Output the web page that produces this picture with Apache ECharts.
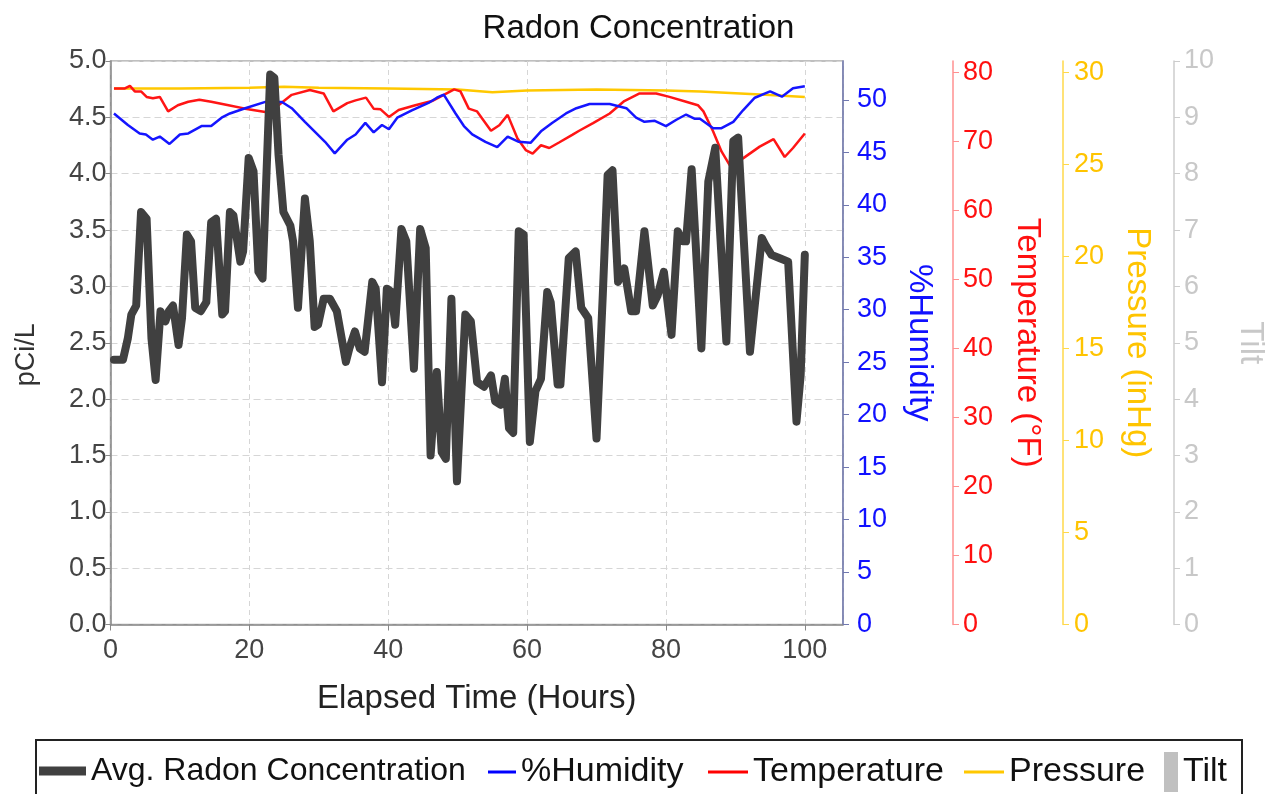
<!DOCTYPE html>
<html>
<head>
<meta charset="utf-8">
<script src="https://cdn.jsdelivr.net/npm/echarts@6/dist/echarts.min.js"></script>
<style>
html,body{margin:0;padding:0;background:#fff;}
#chart{width:1277px;height:794px;}
</style>
</head>
<body>
<div id="chart"></div>
<script>
// ---- data ----
var radonHours = [0.5,1.8,2.5,3.0,3.7,4.4,5.2,5.9,6.5,7.2,7.9,8.4,9.0,9.8,10.3,11.0,11.6,12.2,13.0,13.8,14.5,15.2,16.1,16.5,17.2,17.7,18.7,19.1,19.9,20.6,21.3,21.9,23.0,23.6,24.2,24.9,25.9,26.3,27.0,28.0,28.7,29.4,29.9,30.7,31.6,32.6,33.9,34.4,35.2,35.9,36.6,37.7,38.2,39.1,39.8,40.5,41.0,41.9,42.6,43.7,44.6,45.4,46.1,47.0,47.7,48.3,49.1,49.9,51.1,51.9,52.8,53.8,54.8,55.4,56.2,56.8,57.4,58.0,58.8,59.5,60.4,61.2,62.0,62.9,63.4,64.4,64.8,66.0,67.0,67.8,68.8,70.0,70.9,71.6,72.3,73.1,74.0,75.0,75.7,76.9,78.1,78.8,79.7,80.8,81.7,82.4,82.9,83.7,85.1,86.1,87.1,88.7,89.7,90.4,92.1,93.8,94.3,95.2,96.4,97.6,98.8,99.4,100.0];
var radonValues = [2.35,2.35,2.54,2.75,2.83,3.66,3.60,2.54,2.17,2.78,2.69,2.78,2.83,2.48,2.72,3.46,3.40,2.81,2.78,2.86,3.57,3.60,2.75,2.78,3.66,3.63,3.22,3.31,4.14,4.02,3.13,3.07,4.88,4.85,4.17,3.66,3.54,3.40,2.81,3.78,3.40,2.64,2.66,2.89,2.89,2.78,2.33,2.45,2.60,2.45,2.42,3.04,2.98,2.15,2.98,2.95,2.66,3.51,3.40,2.27,3.51,3.34,1.50,2.24,1.53,1.47,2.89,1.27,2.75,2.69,2.15,2.11,2.21,1.98,1.95,2.18,1.74,1.70,3.49,3.46,1.62,2.07,2.18,2.95,2.86,2.13,2.13,3.25,3.31,2.81,2.72,1.65,2.92,3.99,4.03,3.04,3.16,2.78,2.78,3.49,2.83,2.92,3.13,2.57,3.49,3.40,3.40,4.04,2.45,3.93,4.23,2.51,4.29,4.32,2.42,3.43,3.37,3.28,3.25,3.22,1.80,2.21,3.28];

var humidityHours = [0.5,2.5,4.2,5.1,6.1,7.1,8.5,10.0,11.2,13.1,14.5,16.0,17.2,19.4,22.3,24.7,26.1,28.0,30.9,32.3,34.1,35.3,36.7,37.9,39.1,40.1,41.3,43.4,45.8,47.0,48.0,49.7,50.9,52.1,54.0,55.7,57.2,58.8,60.5,62.0,63.6,65.6,67.1,69.0,71.9,74.3,75.7,76.9,78.4,80.0,81.5,82.9,84.1,84.9,86.8,88.0,89.7,91.1,92.8,95.0,96.7,98.3,100.0];
var humidityValues = [48.7,47.6,46.8,46.7,46.2,46.5,45.8,46.7,46.8,47.5,47.5,48.3,48.7,49.2,49.8,49.8,49.2,47.9,46.0,44.9,46.2,46.7,47.8,46.9,47.6,47.2,48.3,49.0,49.7,50.2,50.5,48.7,47.5,46.7,46.0,45.5,46.5,46.0,45.9,47.0,47.8,48.7,49.2,49.6,49.6,49.2,48.3,47.9,48.0,47.5,48.1,48.6,48.2,48.2,47.3,47.3,47.9,49.0,50.2,50.8,50.3,51.1,51.3];

var temperatureHours = [0.5,2.0,2.8,3.5,4.4,5.2,6.1,7.1,8.3,9.7,11.2,12.8,14.5,17.0,19.4,22.3,24.2,26.1,28.7,30.7,32.1,34.1,35.3,36.8,37.9,38.9,40.1,41.5,43.9,46.3,48.0,49.5,50.4,51.6,52.8,54.8,56.0,57.2,58.6,59.8,60.8,62.0,63.2,64.6,66.5,67.5,69.5,71.9,74.0,76.2,78.6,80.5,82.9,84.6,85.4,86.8,88.0,89.2,91.1,93.5,95.5,97.1,98.3,100.0];
var temperatureValues = [77.6,77.6,78.0,77.2,77.2,76.4,76.2,76.4,74.3,75.2,75.7,76.0,75.7,75.2,74.7,74.2,75.2,76.7,77.4,76.9,74.3,75.5,75.9,76.3,74.7,74.6,73.5,74.5,75.2,75.8,76.7,77.5,77.2,74.7,74.3,71.5,72.3,73.8,70.4,68.7,68.2,69.4,69.0,69.8,70.9,71.5,72.6,74.0,75.8,76.9,76.9,76.4,75.7,75.2,74.3,71.4,68.5,66.5,67.5,69.2,70.3,67.7,69.0,71.1];

var pressureHours = [0.5,10,20,25,30,40,50,55,60,70,80,85,90,95,100];
var pressureValues = [29.1,29.1,29.15,29.2,29.15,29.1,29.05,28.9,29.0,29.05,29.0,28.95,28.85,28.75,28.65];

var tiltValues = [];

var xTicks = {min: 0, max: 105.5, interval: 20};
var seriesNames = ['Avg. Radon Concentration','%Humidity','Temperature','Pressure','Tilt'];

function pairs(xs, ys){ return xs.map(function(x,i){ return [x, ys[i]]; }); }

var FONT = 'Liberation Sans, Arial, sans-serif';
var NAME_SIZE = 33, TICK_SIZE = 27;
var chart = echarts.init(document.getElementById('chart'));

function rightAxis(name, color, lineColor, max, interval, offset, gap, margin, showMax){
  return {
    type: 'value', position: 'right', offset: offset, min: 0, max: max, interval: interval,
    name: name, nameLocation: 'middle', nameRotate: -90, nameGap: gap,
    nameTextStyle: {color: color, fontSize: NAME_SIZE, fontFamily: FONT},
    axisLine: {show: true, lineStyle: {color: lineColor, width: 1.5}},
    axisTick: {show: true, length: 6, lineStyle: {color: lineColor}},
    axisLabel: {color: color, fontSize: TICK_SIZE, fontFamily: FONT, margin: margin, showMaxLabel: showMax},
    splitLine: {show: false}
  };
}

function legendItem(name, left, top, w, h, size){
  return {
    data: [name], left: left, top: top, itemWidth: w, itemHeight: h, icon: 'rect',
    padding: 0, itemGap: 0, selectedMode: false,
    textStyle: {fontSize: size, color: '#111', fontFamily: FONT}
  };
}

var option = {
  backgroundColor: '#fff',
  animation: false,
  title: {
    text: 'Radon Concentration', left: 'center', top: 7,
    textStyle: {fontSize: NAME_SIZE, fontWeight: 'normal', color: '#111', fontFamily: FONT}
  },
  grid: {left: 110.5, right: 434, top: 61, bottom: 169.5, show: true, borderColor: '#aaa', borderWidth: 1.5, containLabel: false},
  legend: [
    legendItem(seriesNames[0], 39, 755, 47, 9, 32),
    legendItem(seriesNames[1], 488, 755, 28, 3, 34),
    legendItem(seriesNames[2], 708, 755, 40, 3, 34),
    legendItem(seriesNames[3], 964, 755, 40, 3, 34),
    legendItem(seriesNames[4], 1164, 752, 14, 40, 34)
  ],
  graphic: [{
    type: 'rect', shape: {x: 36, y: 740, width: 1206, height: 80},
    style: {fill: 'none', stroke: '#222', lineWidth: 2}, silent: true, z: 100
  }],
  xAxis: {
    type: 'value', min: xTicks.min, max: xTicks.max, interval: xTicks.interval,
    name: 'Elapsed Time (Hours)', nameLocation: 'middle', nameGap: 58,
    nameTextStyle: {color: '#222', fontSize: NAME_SIZE, fontFamily: FONT},
    axisLine: {show: true, onZero: false, lineStyle: {color: '#888', width: 1.5}},
    axisTick: {show: true, length: 6, lineStyle: {color: '#888'}},
    axisLabel: {color: '#444', fontSize: TICK_SIZE, fontFamily: FONT, margin: 13, showMaxLabel: false},
    splitLine: {show: true, lineStyle: {color: '#d6d6d6', type: [5, 4], width: 1}}
  },
  yAxis: [
    {
      type: 'value', position: 'left', min: 0, max: 5, interval: 0.5,
      name: 'pCi/L', nameLocation: 'middle', nameGap: 70,
      nameTextStyle: {color: '#333', fontSize: 27, fontFamily: FONT, padding: [0, 24, 0, 0]},
      axisLine: {show: true, lineStyle: {color: '#888', width: 1.5}},
      axisTick: {show: true, length: 5, lineStyle: {color: '#888'}},
      axisLabel: {color: '#444', fontSize: TICK_SIZE, fontFamily: FONT, margin: 4,
        formatter: function(v){ return v.toFixed(1); }},
      splitLine: {show: true, lineStyle: {color: '#d6d6d6', type: [7, 4], width: 1}}
    },
    rightAxis('%Humidity', '#1010ff', '#7078b0', 53.7, 5, 0, 60, 14, false),
    rightAxis('Temperature (°F)', '#ff1010', '#ff9090', 81.6, 10, 110, 58, 10, false),
    rightAxis('Pressure (inHg)', '#ffc400', '#ffd84a', 30.6, 5, 220, 58, 11, false),
    rightAxis('Tilt', '#c8c8c8', '#cccccc', 10, 1, 331, 60, 10, true)
  ],
  series: [
    {name: seriesNames[0], type: 'line', yAxisIndex: 0, data: pairs(radonHours, radonValues),
      showSymbol: false, symbol: 'none', z: 10, itemStyle: {color: '#404040'},
      lineStyle: {color: '#404040', width: 8, join: 'round', cap: 'round'}},
    {name: seriesNames[1], type: 'line', yAxisIndex: 1, data: pairs(humidityHours, humidityValues),
      showSymbol: false, symbol: 'none', z: 6, itemStyle: {color: '#0000ff'},
      lineStyle: {color: '#1515ff', width: 2.5}},
    {name: seriesNames[2], type: 'line', yAxisIndex: 2, data: pairs(temperatureHours, temperatureValues),
      showSymbol: false, symbol: 'none', z: 5, itemStyle: {color: '#ff0000'},
      lineStyle: {color: '#ff1515', width: 2.5}},
    {name: seriesNames[3], type: 'line', yAxisIndex: 3, data: pairs(pressureHours, pressureValues),
      showSymbol: false, symbol: 'none', z: 4, itemStyle: {color: '#ffc800'},
      lineStyle: {color: '#ffc800', width: 2.5}},
    {name: seriesNames[4], type: 'bar', yAxisIndex: 4, data: tiltValues,
      itemStyle: {color: '#c0c0c0'}}
  ]
};
chart.setOption(option);
</script>
</body>
</html>
